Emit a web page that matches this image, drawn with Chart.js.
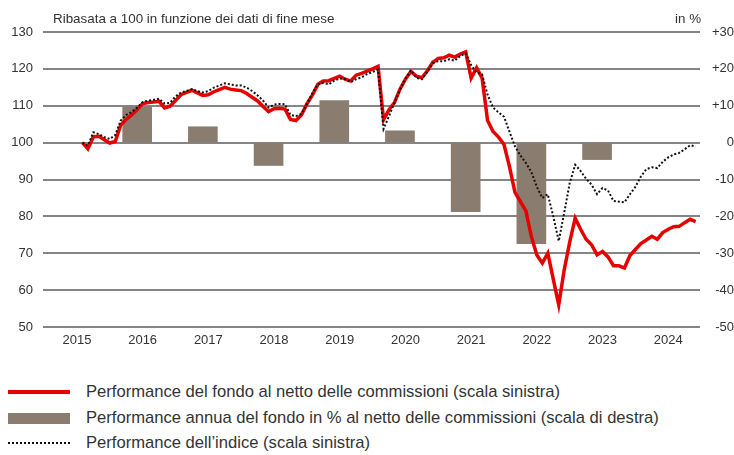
<!DOCTYPE html>
<html lang="it">
<head>
  <meta charset="UTF-8" />
  <title>Performance del fondo</title>
  <script src="https://cdn.jsdelivr.net/npm/chart.js"></script>
  <style>
    body {
      margin: 0;
      background: #fff;
      font-family: "Liberation Sans", Arial, sans-serif;
      color: #333;
    }
    .wrap {
      position: relative;
      width: 734px;
      height: 455px;
    }
    canvas { position: absolute; left: 0; top: 0; }
    .note {
      position: absolute;
      top: 11px;
      font-size: 13.4px;
      color: #333;
    }
    .legend {
      position: absolute;
      left: 0;
      top: 379px;
      font-size: 16.6px;
      color: #333;
    }
    .legend div {
      position: relative;
      height: 25.5px;
      line-height: 25.5px;
      padding-left: 86px;
    }
    .legend span {
      position: absolute;
      left: 8px;
      width: 62px;
    }
    .sw-line { top: 11px; height: 4px; background: #e60000; }
    .sw-bar { top: 8px; height: 11px; background: #8a7d70; }
    .sw-dot { top: 12px; height: 0; border-top: 2px dotted #111; }
  </style>
</head>
<body>
<div class="wrap">
  <canvas id="perfChart" width="734" height="355"></canvas>
  <div class="note" style="left:53px">Ribasata a 100 in funzione dei dati di fine mese</div>
  <div class="note" style="left:675px">in %</div>
  <div class="legend">
    <div><span class="sw-line"></span>Performance del fondo al netto delle commissioni (scala sinistra)</div>
    <div><span class="sw-bar"></span>Performance annua del fondo in % al netto delle commissioni (scala di destra)</div>
    <div><span class="sw-dot"></span>Performance dell’indice (scala sinistra)</div>
  </div>
</div>

<script>
  // x axis counts months from Jan 2015 (0), year labels sit mid-year
  const yearLabels = ['2015', '2016', '2017', '2018', '2019', '2020', '2021', '2022', '2023', '2024'];
  const firstMonth = 7; // first month-end point of the series

  // fund, net of fees, rebased to 100 (left scale)
  const fundValues = [
    100, 98.3, 101.6, 101.7, 100.8, 99.9, 100.3, 104.8, 106.3, 107.5, 109.0, 110.6,
    110.9, 111.0, 111.2, 109.4, 109.9, 111.4, 113.0, 113.6, 114.2, 113.5, 112.8, 113.0,
    113.8, 114.4, 115.0, 114.5, 114.3, 114.1, 113.3, 112.3, 111.3, 109.8, 108.4, 109.2,
    109.3, 109.1, 106.3, 106.0, 107.5, 110.5, 112.9, 115.8, 116.7, 116.8, 117.4, 118.0,
    117.2, 116.7, 118.3, 118.8, 119.4, 120.0, 120.7, 106.2, 108.9, 110.9, 114.5, 117.2,
    119.3, 118.0, 117.6, 119.5, 121.8, 122.8, 123.0, 123.7, 123.2, 124.0, 124.6, 117.5,
    120.3, 117.5, 106.0, 103.0, 101.5, 99.5, 93.5, 86.5, 84.0, 81.5, 74.5, 69.5,
    67.3, 70.0, 63.0, 56.0, 65.5, 73.0, 79.5, 76.5, 73.8, 72.3, 69.6, 70.5,
    69.0, 66.6, 66.6, 66.0, 69.4, 71.0, 72.6, 73.6, 74.6, 73.8, 75.6, 76.5,
    77.2, 77.3, 78.3, 79.2, 78.6
  ];

  // index, rebased to 100 (left scale)
  const indexValues = [
    100, 99.2, 102.8, 102.3, 101.5, 101.0, 102.1, 106.0, 107.5, 108.3, 109.5, 111.0,
    111.4, 111.6, 111.9, 110.6, 110.8, 112.5, 113.6, 114.0, 114.5, 114.0, 113.6, 114.0,
    114.9, 115.5, 116.1, 115.8, 115.5, 115.5, 114.9, 114.0, 112.8, 111.4, 109.5, 110.3,
    110.5, 110.4, 107.5, 107.2, 107.8, 110.5, 113.4, 115.8, 116.2, 115.8, 116.8, 117.4,
    117.2, 116.4, 117.2, 117.7, 118.6, 119.2, 119.8, 103.7, 107.2, 110.8, 114.3, 117.3,
    119.6, 117.6, 117.2, 119.2, 121.5, 122.1, 122.1, 122.6, 122.2, 123.5, 124.2, 121.0,
    119.0, 118.5, 113.0, 109.5, 108.2, 107.0, 103.0, 99.0, 96.5, 94.5, 92.0, 88.0,
    85.0, 86.0, 80.0, 73.3, 81.0, 89.0, 94.0, 92.3, 90.2, 88.6, 86.0, 87.7,
    87.0, 84.2, 84.0, 83.8, 86.0, 88.0, 90.8, 92.8, 93.3, 93.1, 94.8, 96.0,
    96.8, 97.2, 98.2, 99.3, 99.0
  ];

  // annual performance in % (right scale)
  const barYears = [2016, 2017, 2018, 2019, 2020, 2021, 2022, 2023];
  const annualPerf = [9.7, 4.3, -6.2, 11.4, 3.2, -18.7, -27.4, -4.6];

  const fundPoints = fundValues.map((v, i) => ({ x: firstMonth + i, y: v }));
  const indexPoints = indexValues.map((v, i) => ({ x: firstMonth + i, y: v }));
  const barPoints = annualPerf.map((v, i) => ({ x: (barYears[i] - 2015) * 12 + 5, y: v }));

  const tickFont = { family: '"Liberation Sans", Arial, sans-serif', size: 13 };

  new Chart(document.getElementById('perfChart'), {
    type: 'line',
    data: {
      datasets: [
        {
          label: 'Performance dell’indice (scala sinistra)',
          data: indexPoints,
          borderColor: '#111',
          borderWidth: 2,
          borderDash: [2, 2],
          pointRadius: 0,
          yAxisID: 'y',
          order: 0
        },
        {
          label: 'Performance del fondo al netto delle commissioni (scala sinistra)',
          data: fundPoints,
          borderColor: '#e60000',
          borderWidth: 3.5,
          pointRadius: 0,
          yAxisID: 'y',
          order: 1
        },
        {
          type: 'bar',
          label: 'Performance annua del fondo in % al netto delle commissioni (scala di destra)',
          data: barPoints,
          backgroundColor: '#8a7d70',
          barThickness: 29,
          yAxisID: 'y2',
          order: 2
        }
      ]
    },
    options: {
      responsive: false,
      animation: false,
      layout: { padding: { top: 32, left: 0, right: 0, bottom: 0 } },
      plugins: {
        legend: { display: false },
        tooltip: { enabled: false }
      },
      scales: {
        x: {
          type: 'linear',
          min: -0.2,
          max: 119.8,
          offset: false,
          grid: { display: false, drawTicks: false },
          border: { display: false },
          afterBuildTicks: (scale) => {
            scale.ticks = yearLabels.map((y, i) => ({ value: 6 + 12 * i }));
          },
          afterFit: (scale) => { scale.height = 28; },
          ticks: {
            color: '#333',
            font: tickFont,
            padding: 6,
            maxRotation: 0,
            autoSkip: false,
            callback: (v, i) => yearLabels[i]
          }
        },
        y: {
          position: 'left',
          min: 50,
          max: 130,
          afterFit: (scale) => { scale.width = 43; },
          grid: { color: '#858585', lineWidth: 2, drawTicks: false },
          border: { display: false },
          ticks: { stepSize: 10, color: '#333', font: tickFont, padding: 10 }
        },
        y2: {
          position: 'right',
          min: -50,
          max: 30,
          afterFit: (scale) => { scale.width = 34; },
          grid: { drawOnChartArea: false, drawTicks: false },
          border: { display: false },
          ticks: {
            stepSize: 10,
            color: '#333',
            font: tickFont,
            crossAlign: 'far',
            padding: 0,
            callback: (v) => (v > 0 ? '+' + v : v)
          }
        }
      }
    }
  });
</script>
</body>
</html>
